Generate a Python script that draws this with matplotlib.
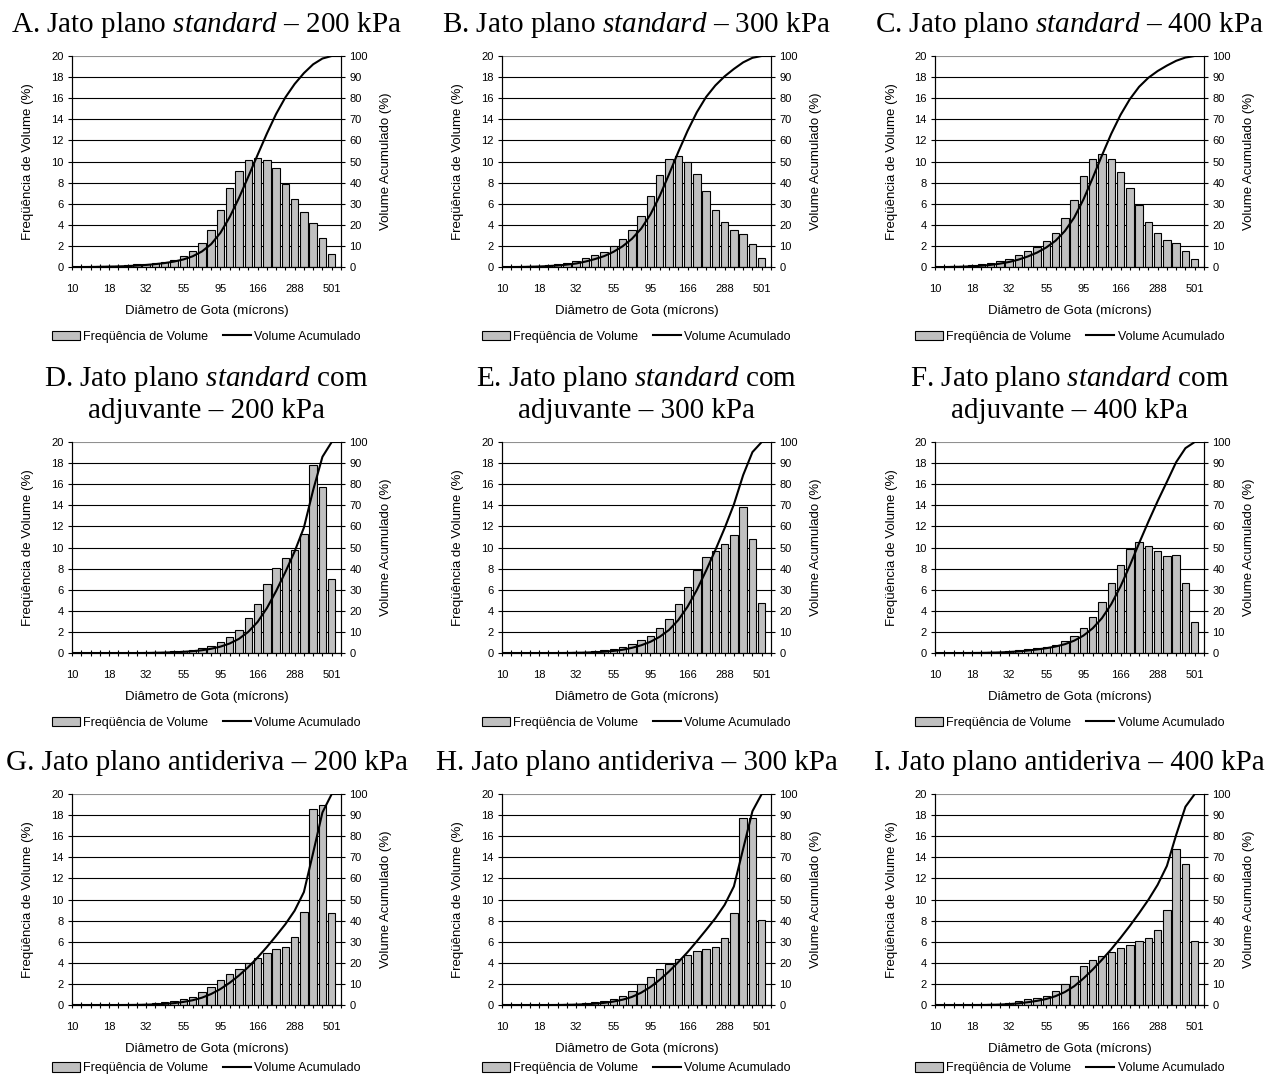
import numpy as np
from matplotlib import pyplot as plt

plt.rcParams['font.family'] = ['Liberation Sans', 'DejaVu Sans']
plt.rcParams['mathtext.fontset'] = 'custom'
plt.rcParams['mathtext.rm'] = 'Liberation Serif'
plt.rcParams['mathtext.it'] = 'Liberation Serif:italic'

#################
# the data      #
#################
# 30 drop size classes, labelled every 4th class
tick_labels = ['10', '18', '32', '55', '95', '166', '288', '501']

freq_A = [0, 0, 0.03, 0.05, 0.1, 0.1, 0.15, 0.25, 0.3, 0.4, 0.5, 0.7, 1.0, 1.5, 2.3,
          3.5, 5.4, 7.5, 9.1, 10.1, 10.35, 10.15, 9.4, 7.9, 6.4, 5.2, 4.2, 2.75, 1.2, 0]
freq_B = [0, 0, 0.03, 0.08, 0.12, 0.2, 0.28, 0.4, 0.55, 0.9, 1.15, 1.4, 2.0, 2.65, 3.5,
          4.8, 6.7, 8.7, 10.2, 10.55, 9.95, 8.8, 7.2, 5.45, 4.3, 3.5, 3.1, 2.15, 0.85, 0]
freq_C = [0, 0, 0.05, 0.1, 0.2, 0.25, 0.4, 0.6, 0.8, 1.1, 1.5, 1.85, 2.45, 3.2, 4.6,
          6.35, 8.65, 10.25, 10.75, 10.25, 9.0, 7.45, 5.9, 4.3, 3.2, 2.6, 2.28, 1.56, 0.72, 0]
freq_D = [0, 0, 0, 0, 0, 0, 0, 0, 0.03, 0.07, 0.1, 0.15, 0.2, 0.3, 0.45,
          0.7, 1.0, 1.5, 2.2, 3.3, 4.65, 6.5, 8.1, 9.0, 9.75, 11.3, 17.8, 15.7, 7.0, 0]
freq_E = [0, 0, 0, 0, 0, 0, 0, 0.03, 0.06, 0.1, 0.15, 0.25, 0.38, 0.55, 0.9,
          1.2, 1.65, 2.35, 3.2, 4.65, 6.3, 7.85, 9.1, 9.7, 10.3, 11.2, 13.8, 10.8, 4.75, 0]
freq_F = [0, 0, 0, 0, 0.02, 0.04, 0.08, 0.12, 0.2, 0.3, 0.4, 0.5, 0.6, 0.8, 1.1,
          1.65, 2.4, 3.45, 4.8, 6.6, 8.35, 9.85, 10.55, 10.17, 9.7, 9.15, 9.3, 6.6, 2.9, 0]
freq_G = [0, 0, 0, 0, 0, 0, 0.02, 0.04, 0.08, 0.15, 0.25, 0.35, 0.55, 0.8, 1.2,
          1.75, 2.35, 2.95, 3.45, 3.95, 4.5, 4.95, 5.3, 5.5, 6.4, 8.8, 18.6, 19.0, 8.7, 0]
freq_H = [0, 0, 0, 0, 0, 0, 0.02, 0.05, 0.1, 0.18, 0.25, 0.4, 0.6, 0.9, 1.3,
          2.0, 2.7, 3.4, 3.9, 4.4, 4.7, 5.15, 5.35, 5.5, 6.35, 8.7, 17.75, 17.75, 8.1, 0]
freq_I = [0, 0, 0, 0, 0, 0.02, 0.06, 0.12, 0.22, 0.35, 0.55, 0.65, 0.9, 1.35, 1.95,
          2.75, 3.7, 4.25, 4.65, 5.0, 5.4, 5.7, 6.05, 6.35, 7.15, 9.0, 14.75, 13.4, 6.05, 0]

titles = ['A. Jato plano $\\mathit{standard}$ – 200 kPa',
          'B. Jato plano $\\mathit{standard}$ – 300 kPa',
          'C. Jato plano $\\mathit{standard}$ – 400 kPa',
          'D. Jato plano $\\mathit{standard}$ com\nadjuvante – 200 kPa',
          'E. Jato plano $\\mathit{standard}$ com\nadjuvante – 300 kPa',
          'F. Jato plano $\\mathit{standard}$ com\nadjuvante – 400 kPa',
          'G. Jato plano antideriva – 200 kPa',
          'H. Jato plano antideriva – 300 kPa',
          'I. Jato plano antideriva – 400 kPa']

all_freq = [freq_A, freq_B, freq_C, freq_D, freq_E, freq_F, freq_G, freq_H, freq_I]

#################
# plot the data #
#################
W, H = 1268, 1076
fig = plt.figure(figsize=(W / 100, H / 100), dpi=100)

col_left = [72, 502, 935]
row_top = [56, 442, 794]
ax_w, ax_h = 269, 211
legend_y = [-0.33, -0.33, -0.30]

for i, freq in enumerate(all_freq):
    r, c = divmod(i, 3)
    rect = [col_left[c] / W, 1 - (row_top[r] + ax_h) / H, ax_w / W, ax_h / H]
    ax = fig.add_axes(rect)

    freq = np.array(freq)
    pos = np.arange(len(freq))
    cum = np.cumsum(freq) / freq.sum() * 100

    bars = ax.bar(pos, freq, width=0.8, color='#c0c0c0', edgecolor='black',
                  linewidth=0.8, label='Freqüência de Volume', zorder=2)
    ax.set_xlim(0, len(freq) - 1)
    ax.set_ylim(0, 20)
    ax.set_yticks(np.arange(0, 21, 2))
    ax.set_xticks(np.arange(0, 29, 4))
    ax.set_xticklabels(tick_labels)
    ax.set_xticks(pos, minor=True)
    ax.yaxis.grid(True, color='black', linewidth=0.8)
    ax.get_ygridlines()[-1].set_color('#909090')
    ax.set_axisbelow(True)
    ax.spines['top'].set_visible(False)
    ax.tick_params(axis='x', which='both', direction='inout', length=5, width=0.8,
                   labelsize=8, pad=10)
    ax.tick_params(axis='y', direction='out', length=3, width=0.8, labelsize=8, pad=3)
    ax.set_xlabel('Diâmetro de Gota (mícrons)', fontsize=9.5, labelpad=8)
    ax.set_ylabel('Freqüência de Volume (%)', fontsize=9.5, labelpad=12)
    ax.set_title(titles[i], fontsize=21, fontfamily='Liberation Serif', pad=17)

    ax2 = ax.twinx()
    line, = ax2.plot(pos, cum, color='black', linewidth=1.5, label='Volume Acumulado')
    ax2.set_ylim(0, 100)
    ax2.set_yticks(np.arange(0, 101, 10))
    ax2.spines['top'].set_visible(False)
    ax2.tick_params(axis='y', direction='out', length=3, width=0.8, labelsize=8, pad=3)
    ax2.set_ylabel('Volume Acumulado (%)', fontsize=9.5, labelpad=9)

    ax.legend([bars, line], ['Freqüência de Volume', 'Volume Acumulado'],
              loc='center', bbox_to_anchor=(0.5, legend_y[r]), ncol=2, frameon=False,
              fontsize=9, handlelength=2.2, handleheight=0.8, handletextpad=0.3,
              columnspacing=1.2, borderaxespad=0)

plt.savefig('out.png', dpi=100)
